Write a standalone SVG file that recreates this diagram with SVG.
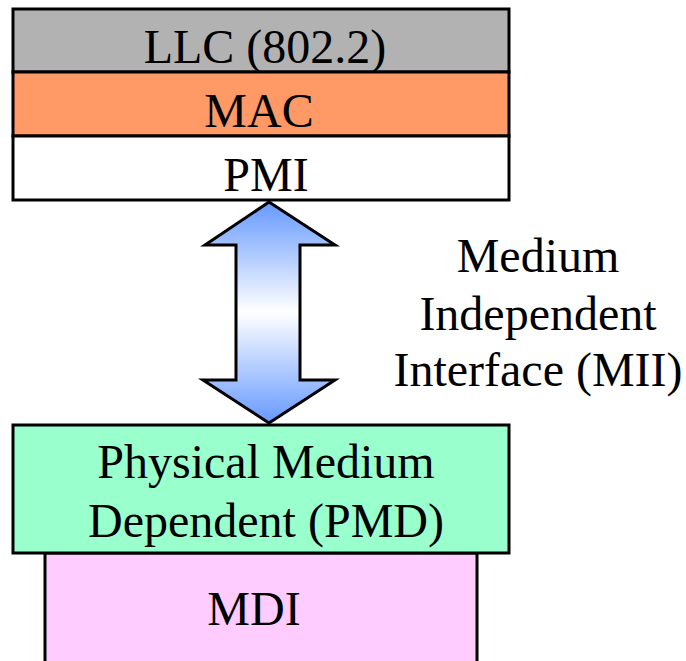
<svg xmlns="http://www.w3.org/2000/svg" width="686" height="661" viewBox="0 0 686 661">
  <style>
    .box { stroke: #000; stroke-width: 3; }
    .lbl { font-family: "Liberation Serif", "Times New Roman", serif; font-size: 48px; fill: #000; text-anchor: middle; }
  </style>
  <defs>
    <linearGradient id="arrowFill" x1="0" y1="202" x2="0" y2="423" gradientUnits="userSpaceOnUse">
      <stop offset="0" stop-color="#6699ff"/>
      <stop offset="0.5" stop-color="#ffffff"/>
      <stop offset="1" stop-color="#6699ff"/>
    </linearGradient>
  </defs>
  <rect width="686" height="661" fill="#fff"/>

  <g id="llc">
    <rect class="box" x="13" y="9" width="496" height="63" fill="#b2b2b2"/>
    <text class="lbl" x="265" y="63">LLC (802.2)</text>
  </g>
  <g id="mac">
    <rect class="box" x="13" y="72" width="496" height="64" fill="#ff9966"/>
    <text class="lbl" x="259" y="127">MAC</text>
  </g>
  <g id="pmi">
    <rect class="box" x="13" y="136" width="496" height="64" fill="#ffffff"/>
    <text class="lbl" x="266" y="191">PMI</text>
  </g>

  <g id="mdi">
    <rect class="box" x="45" y="553" width="432" height="120" fill="#ffccff"/>
    <text class="lbl" x="254" y="625">MDI</text>
  </g>
  <g id="pmd">
    <rect class="box" x="13" y="425" width="496" height="128" fill="#99ffcc"/>
    <text class="lbl" x="266" y="478">Physical Medium</text>
    <text class="lbl" x="266" y="537">Dependent (PMD)</text>
  </g>

  <g id="connectors">
    <path d="M269,202 L335,245 L300,245 L300,380 L335,380 L269,423 L203,380 L236,380 L236,245 L205,245 Z"
          fill="url(#arrowFill)" stroke="#000" stroke-width="3" stroke-linejoin="miter"/>
  </g>

  <g id="mii-label">
    <text class="lbl" x="538" y="272">Medium</text>
    <text class="lbl" x="538" y="330">Independent</text>
    <text class="lbl" x="538" y="386">Interface (MII)</text>
  </g>
</svg>
